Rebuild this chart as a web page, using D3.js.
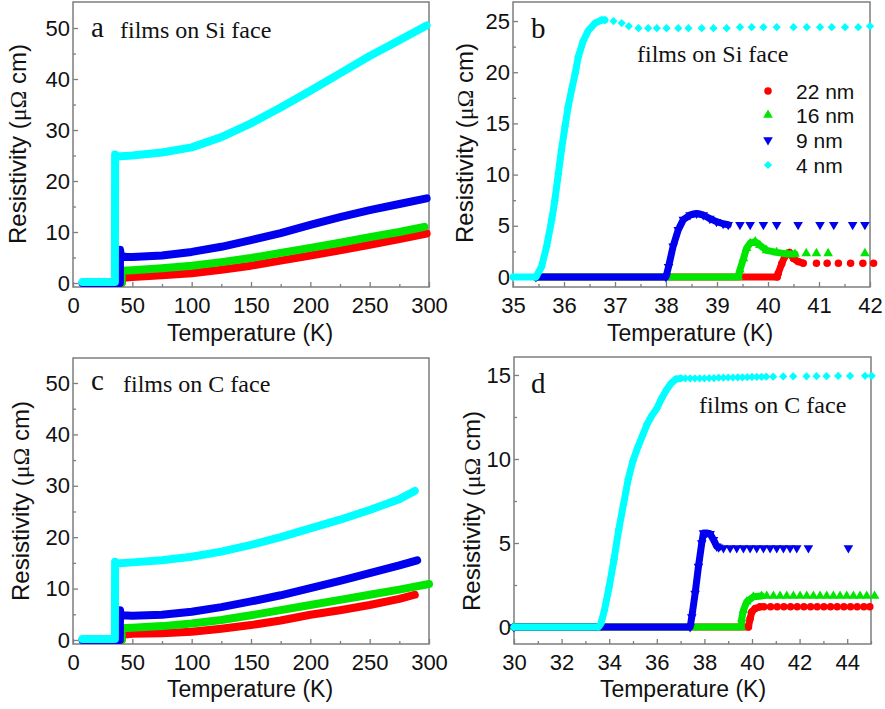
<!DOCTYPE html>
<html><head><meta charset="utf-8">
<script src="https://cdn.jsdelivr.net/npm/d3@7"></script>
<style>body{margin:0;background:#fff}</style>
</head><body>
<svg id="chart" width="885" height="709" xmlns="http://www.w3.org/2000/svg"></svg>
<script>
// ---------------- DATA ----------------
const seriesNames = ["22 nm", "16 nm", "9 nm", "4 nm"];

// Panel a : films on Si face, wide range  [T (K), rho (µΩ cm)]
const a22 = [[36,0],[41,0],[41,1.0],[45,1.1],[50,1.2],[75,1.5],[100,1.9],[125,2.6],[150,3.4],[175,4.4],[200,5.4],[225,6.4],[250,7.5],[275,8.6],[298,9.7]];
const a16 = [[36,0],[41,0],[41,2.4],[50,2.5],[75,2.9],[100,3.4],[125,4.1],[150,4.9],[175,5.9],[200,6.9],[225,7.9],[250,9.0],[275,10.0],[296,11.0]];
const a9  = [[8,0],[39.5,0],[39.6,6.5],[40.5,5.3],[45,5.1],[50,5.1],[75,5.4],[100,6.1],[125,7.1],[150,8.4],[175,9.8],[200,11.4],[225,12.9],[250,14.3],[275,15.5],[298,16.6]];
const a4  = [[8,0.2],[35.3,0.2],[35.5,25.2],[37,24.8],[50,25.0],[75,25.6],[100,26.6],[125,28.6],[150,31.3],[175,34.4],[200,37.7],[225,41.1],[250,44.5],[275,47.6],[298,50.5]];

// Panel c : films on C face, wide range
const c22 = [[36,0],[41,0],[41,1.0],[50,1.2],[75,1.3],[100,1.6],[125,2.2],[150,2.9],[175,3.8],[200,4.9],[225,5.8],[250,6.8],[275,8.0],[288,8.8]];
const c16 = [[36,0],[41,0],[41,2.3],[50,2.4],[75,2.7],[100,3.2],[125,3.9],[150,4.8],[175,5.8],[200,6.8],[225,7.8],[250,8.8],[275,9.8],[300,10.9]];
const c9  = [[8,0],[39.5,0],[39.6,5.8],[40.5,4.8],[50,4.7],[75,4.9],[100,5.5],[125,6.4],[150,7.5],[175,8.7],[200,10.1],[225,11.5],[250,13.0],[275,14.5],[290,15.5]];
const c4  = [[8,0.2],[35.3,0.2],[35.5,15.2],[37,14.9],[50,15.1],[75,15.5],[100,16.2],[125,17.2],[150,18.5],[175,20.0],[200,21.7],[225,23.4],[250,25.3],[275,27.4],[288,29.0]];

// Panel b : films on Si face, transition region (dense part / sparse points)
const b22Dense = [[35.45,0],[40.18,0],[40.2,0.35],[40.27,1.3],[40.33,2.0],[40.42,2.4],[40.5,1.8],[40.59,1.5],[40.69,1.35]];
const b22Pts   = [[40.95,1.35],[41.16,1.35],[41.38,1.35],[41.62,1.35],[41.86,1.35],[42.07,1.35]];
const b16Dense = [[35.45,0],[39.42,0],[39.45,0.7],[39.52,1.8],[39.58,2.8],[39.65,3.3],[39.75,3.45],[39.84,3.1],[39.97,2.6],[40.17,2.4],[40.37,2.25],[40.53,2.25]];
const b16Pts   = [[40.75,2.3],[40.95,2.3],[41.18,2.3],[41.9,2.3]];
const b9Dense  = [[35.45,0],[38.0,0],[38.05,1.0],[38.14,3.0],[38.24,4.6],[38.34,5.6],[38.47,6.05],[38.6,6.2],[38.73,6.05],[38.86,5.7],[38.99,5.4],[39.12,5.2],[39.22,5.1]];
const b9Pts    = [[39.45,5.1],[39.65,5.1],[39.91,5.1],[40.17,5.1],[40.59,5.1],[41.02,5.1],[41.29,5.1],[41.66,5.1],[41.9,5.1]];
const b4Dense  = [[35.0,0],[35.45,0],[35.56,1.0],[35.66,3.0],[35.76,5.6],[35.82,7.5],[35.89,10.1],[35.95,12.4],[36.02,14.7],[36.08,16.6],[36.15,18.3],[36.22,19.9],[36.28,21.5],[36.38,23.1],[36.48,24.1],[36.61,24.8],[36.74,25.1],[36.8,25.1]];
const b4Pts    = [[36.97,25.0],[37.13,24.8],[37.27,24.5],[37.46,24.3],[37.65,24.3],[37.82,24.3],[38.01,24.3],[38.24,24.3],[38.44,24.3],[38.7,24.3],[38.93,24.3],[39.19,24.3],[39.45,24.4],[39.68,24.4],[39.91,24.4],[40.17,24.4],[40.5,24.4],[40.76,24.4],[41.02,24.4],[41.25,24.4],[41.51,24.4],[41.77,24.4],[42.0,24.5]];

// Panel d : films on C face, transition region
const d22Dense = [[30,0],[39.85,0],[39.92,0.5],[39.99,0.9],[40.13,1.1],[40.34,1.2]];
const d22Pts   = [[40.5,1.2],[40.78,1.2],[41.06,1.2],[41.34,1.2],[41.62,1.2],[41.9,1.2],[42.18,1.2],[42.46,1.2],[42.74,1.2],[43.02,1.2],[43.3,1.2],[43.58,1.2],[43.86,1.2],[44.14,1.2],[44.42,1.2],[44.7,1.2],[44.95,1.2]];
const d16Dense = [[30,0],[39.55,0],[39.57,0.5],[39.64,1.0],[39.78,1.5],[40.06,1.8],[40.4,1.85]];
const d16Pts   = [[40.62,1.85],[40.9,1.85],[41.18,1.85],[41.46,1.85],[41.74,1.85],[42.02,1.85],[42.3,1.85],[42.58,1.85],[42.86,1.85],[43.14,1.85],[43.42,1.85],[43.7,1.85],[43.98,1.85],[44.26,1.85],[44.54,1.85],[44.82,1.85],[45.15,1.85]];
const d9Dense  = [[30,0],[37.4,0],[37.47,0.6],[37.61,2.0],[37.75,3.6],[37.89,5.0],[37.96,5.6],[38.1,5.6],[38.24,5.55],[38.38,5.2],[38.52,4.8],[38.6,4.75]];
const d9Pts    = [[38.8,4.7],[39.08,4.7],[39.36,4.7],[39.64,4.7],[39.92,4.7],[40.2,4.7],[40.48,4.7],[40.76,4.7],[41.04,4.7],[41.32,4.7],[41.6,4.7],[41.88,4.7],[42.37,4.7],[44.05,4.7]];
const d4Dense  = [[30,0],[33.55,0],[33.65,0.2],[33.8,1.0],[34.0,2.4],[34.2,4.0],[34.4,5.8],[34.6,7.3],[34.8,8.8],[35.0,9.9],[35.2,10.7],[35.4,11.4],[35.6,12.1],[35.8,12.6],[36.0,13.0],[36.2,13.6],[36.4,14.1],[36.6,14.5],[36.8,14.75],[37.0,14.8]];
const d4Pts    = [[37.2,14.8],[37.4,14.8],[37.6,14.8],[37.8,14.8],[38.0,14.8],[38.2,14.82],[38.4,14.82],[38.6,14.84],[38.8,14.84],[39.0,14.85],[39.2,14.85],[39.4,14.86],[39.6,14.86],[39.8,14.87],[40.0,14.88],[40.2,14.88],[40.4,14.89],[40.6,14.9],[40.89,14.9],[41.31,14.91],[41.73,14.92],[42.29,14.92],[42.71,14.93],[43.13,14.93],[43.62,14.94],[44.12,14.94],[44.75,14.95],[45.03,14.95]];

// tick values
const xTicksWide = [0,50,100,150,200,250,300];
const xMinorWide = [25,75,125,175,225,275];
const yTicksWide = [0,10,20,30,40,50];
const yMinorWide = [5,15,25,35,45];
const xTicksB = [35,36,37,38,39,40,41,42];
const xMinorB = [35.5,36.5,37.5,38.5,39.5,40.5,41.5];
const yTicksB = [0,5,10,15,20,25];
const yMinorB = [2.5,7.5,12.5,17.5,22.5];
const xTicksD = [30,32,34,36,38,40,42,44];
const xMinorD = [31,33,35,37,39,41,43,45];
const yTicksD = [0,5,10,15];
const yMinorD = [2.5,7.5,12.5];

const panelLetters = ["a","b","c","d"];
const panelTexts = ["films on Si face","films on Si face","films on C face","films on C face"];

// ---------------- STYLE ----------------
const colors = ["#ff0000", "#00e600", "#0000ee", "#00ffff"];
const SANS = "'Liberation Sans', Arial, Helvetica, sans-serif";
const SERIF = "'Liberation Serif', 'Times New Roman', serif";
const FRAME = "#7d7d7d";

const svg = d3.select("#chart");
svg.append("rect").attr("width",885).attr("height",709).attr("fill","#fff");

const symCircle = d3.symbol(d3.symbolCircle, 44)();
const symTri = d3.symbol(d3.symbolTriangle, 40)();
const symSquare = d3.symbol(d3.symbolSquare, 34)();
const rot = [0, 0, 180, 45];
const shapeOf = i => i === 0 ? symCircle : (i === 3 ? symSquare : symTri);

function drawPanel(p) {
  const g = svg.append("g");
  const x = d3.scaleLinear().domain(p.xDom).range([p.left, p.right]);
  const y = d3.scaleLinear().domain(p.yDom).range([p.bottom, p.top]);

  const xa = g.append("g").attr("transform", `translate(0,${p.bottom})`)
    .call(d3.axisBottom(x).tickValues(p.xTicks).tickSize(-5).tickPadding(10).tickFormat(d3.format("d")));
  const xm = g.append("g").attr("transform", `translate(0,${p.bottom})`)
    .call(d3.axisBottom(x).tickValues(p.xMinor).tickSize(-3).tickFormat(""));
  const ya = g.append("g").attr("transform", `translate(${p.left},0)`)
    .call(d3.axisLeft(y).tickValues(p.yTicks).tickSize(-5).tickPadding(3).tickFormat(d3.format("d")));
  const ym = g.append("g").attr("transform", `translate(${p.left},0)`)
    .call(d3.axisLeft(y).tickValues(p.yMinor).tickSize(-3).tickFormat(""));
  [xa, xm, ya, ym].forEach(a => {
    a.select(".domain").remove();
    a.selectAll(".tick line").attr("stroke", FRAME).attr("stroke-width", 1.3);
    a.selectAll("text").attr("font-family", SANS).attr("font-size", 22).attr("fill", "#111");
  });

  g.append("rect").attr("x", p.left).attr("y", p.top)
    .attr("width", p.right - p.left).attr("height", p.bottom - p.top)
    .attr("fill", "none").attr("stroke", FRAME).attr("stroke-width", 1.5);

  const line = d3.line().x(d => x(d[0])).y(d => y(d[1]));
  p.series.forEach((s, i) => {
    g.append("path").datum(s.dense).attr("d", line)
      .attr("fill", "none").attr("stroke", colors[i]).attr("stroke-width", p.bandW)
      .attr("stroke-linejoin", "round").attr("stroke-linecap", "round");
    const pts = p.denseMarkers ? s.dense.concat(s.pts || []) : (s.pts || []);
    g.selectAll(null).data(pts).enter().append("path")
      .attr("d", shapeOf(i))
      .attr("transform", d => `translate(${x(d[0])},${y(d[1])}) rotate(${rot[i]})`)
      .attr("fill", colors[i]);
  });

  g.append("text").attr("x", p.xTitle[0]).attr("y", p.xTitle[1]).attr("text-anchor", "middle")
    .attr("font-family", SANS).attr("font-size", 23).attr("fill", "#111").text("Temperature (K)");
  const yt = g.append("text").attr("transform", `translate(${p.yTitle[0]},${p.yTitle[1]}) rotate(-90)`)
    .attr("text-anchor", "middle").attr("dy", "0.35em")
    .attr("font-family", SANS).attr("font-size", 24).attr("fill", "#111");
  yt.append("tspan").text("Resistivity (");
  yt.append("tspan").attr("font-family", SERIF).text("\u03BC\u03A9");
  yt.append("tspan").text(" cm)");

  g.append("text").attr("x", p.letter[0]).attr("y", p.letter[1])
    .attr("font-family", SERIF).attr("font-size", 29).attr("fill", "#111").text(p.letterText);
  g.append("text").attr("x", p.label[0]).attr("y", p.label[1])
    .attr("font-family", SERIF).attr("font-size", 24).attr("fill", "#111").text(p.labelText);
}

const wrap = (arr) => arr.map(d => ({dense: d}));

drawPanel({
  left: 73, right: 429, top: 2, bottom: 287, xDom: [0, 300], yDom: [-0.78, 55.1],
  xTicks: xTicksWide, xMinor: xMinorWide, yTicks: yTicksWide, yMinor: yMinorWide,
  series: wrap([a22, a16, a9, a4]), bandW: 8, denseMarkers: false,
  xTitle: [250, 341], yTitle: [18, 144], letter: [91, 37], letterText: panelLetters[0],
  label: [120, 38], labelText: panelTexts[0]
});
drawPanel({
  left: 513, right: 870, top: 2, bottom: 287, xDom: [35, 42], yDom: [-0.98, 26.86],
  xTicks: xTicksB, xMinor: xMinorB, yTicks: yTicksB, yMinor: yMinorB,
  series: [{dense: b22Dense, pts: b22Pts}, {dense: b16Dense, pts: b16Pts}, {dense: b9Dense, pts: b9Pts}, {dense: b4Dense, pts: b4Pts}],
  bandW: 7, denseMarkers: true,
  xTitle: [690, 341], yTitle: [465, 143], letter: [531, 38], letterText: panelLetters[1],
  label: [637, 62], labelText: panelTexts[1]
});
drawPanel({
  left: 73, right: 429, top: 358, bottom: 644, xDom: [0, 300], yDom: [-0.78, 54.86],
  xTicks: xTicksWide, xMinor: xMinorWide, yTicks: yTicksWide, yMinor: yMinorWide,
  series: wrap([c22, c16, c9, c4]), bandW: 8, denseMarkers: false,
  xTitle: [250, 697], yTitle: [21, 501], letter: [91, 390], letterText: panelLetters[2],
  label: [123, 392], labelText: panelTexts[2]
});
drawPanel({
  left: 514, right: 871, top: 357, bottom: 644, xDom: [30, 45], yDom: [-1.01, 16.07],
  xTicks: xTicksD, xMinor: xMinorD, yTicks: yTicksD, yMinor: yMinorD,
  series: [{dense: d22Dense, pts: d22Pts}, {dense: d16Dense, pts: d16Pts}, {dense: d9Dense, pts: d9Pts}, {dense: d4Dense, pts: d4Pts}],
  bandW: 7, denseMarkers: true,
  xTitle: [683, 697], yTitle: [472, 511], letter: [531, 393], letterText: panelLetters[3],
  label: [699, 413], labelText: panelTexts[3]
});

// legend in panel b
const legRows = [91, 115, 140, 165];
const lg = svg.append("g");
seriesNames.forEach((name, i) => {
  lg.append("path").attr("d", shapeOf(i))
    .attr("transform", `translate(768,${legRows[i]}) rotate(${rot[i]})`)
    .attr("fill", colors[i]);
  lg.append("text").attr("x", 796).attr("y", legRows[i]).attr("dy", "0.36em")
    .attr("font-family", SANS).attr("font-size", 21).attr("fill", "#111").text(name);
});
</script>
</body></html>
